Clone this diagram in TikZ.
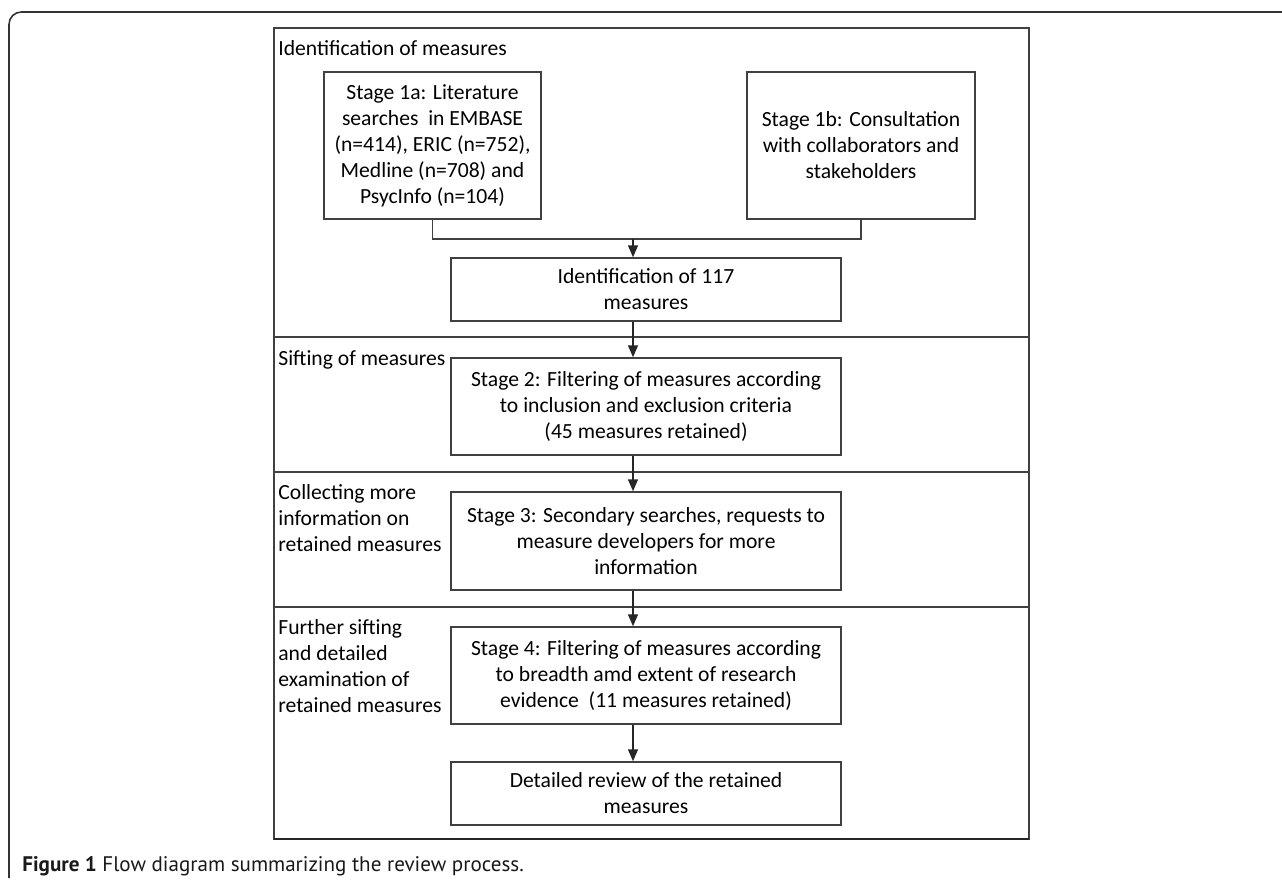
\documentclass[tikz,border=0pt]{standalone}
\usepackage{fontspec}
\setmainfont{Carlito}
\newfontfamily\capfont{PT Sans}
\usetikzlibrary{arrows.meta}

\tikzset{
  stagebox/.style={draw=black!75, line width=0.85pt, align=center, inner sep=0pt,
    font=\fontsize{12.3}{14.8}\selectfont},
  phase/.style={anchor=west, align=left, inner sep=0pt,
    font=\fontsize{12.3}{14.8}\selectfont},
  flow/.style={draw=black!85, line width=0.85pt, -{Triangle[length=2.4mm,width=2mm]}},
  rule/.style={draw=black!75, line width=0.85pt},
}

\begin{document}
\begin{tikzpicture}[x=0.02cm, y=-0.02cm]
    \useasboundingbox (0,0) rectangle (1282,883);
    \coordinate (TL) at (274,28);
    \coordinate (BR) at (1029,839);
    \coordinate (col) at (633,0);
    % page frame, only the top left corner is seen
    \draw[black!80, line width=0.9pt, rounded corners=7pt] (9,878) -- (9,12) -- (1282,12);
    % outer box and the phase dividers
    \draw[rule] (TL) rectangle (BR);
    \draw[black!85, line width=1.2pt] (274,839) -- (1029,839);
    \draw[rule] (274,337) -- (1029,337);
    \draw[rule] (274,472) -- (1029,472);
    \draw[rule] (274,607) -- (1029,607);

    \node[phase] (ph1) at (278,48) {Identification of measures};
    \node[phase] (ph2) at (278,360) {Sifting of measures};
    \node[phase] (ph3) at (278,518) {Collecting more\\information on\\retained measures};
    \node[phase] (ph4) at (278,666) {Further sifting\\and detailed\\examination of\\retained measures};

    \node[stagebox, minimum width=4.34cm, minimum height=2.94cm] (s1a) at (432.5,145.5)
        {Stage 1a: Literature\\searches \ in EMBASE\\(n=414), ERIC (n=752),\\Medline (n=708) and\\PsycInfo (n=104)};
    \node[stagebox, minimum width=4.56cm, minimum height=2.94cm] (s1b) at (861,145.5)
        {Stage 1b: Consultation\\with collaborators and\\stakeholders};
    \node[stagebox, minimum width=7.8cm, minimum height=1.26cm] (ident) at (646,289.5)
        {Identification of 117\\measures};
    \node[stagebox, minimum width=7.8cm, minimum height=1.94cm] (s2) at (646,406.5)
        {Stage 2: Filtering of measures according\\to inclusion and exclusion criteria\\(45 measures retained)};
    \node[stagebox, minimum width=7.8cm, minimum height=1.96cm] (s3) at (646,541)
        {Stage 3: Secondary searches, requests to\\measure developers for more\\information};
    \node[stagebox, minimum width=7.8cm, minimum height=1.94cm] (s4) at (646,675.5)
        {Stage 4: Filtering of measures according\\to breadth amd extent of research\\evidence \ (11 measures retained)};
    \node[stagebox, minimum width=7.8cm, minimum height=1.26cm] (s5) at (646,793.5)
        {Detailed review of the retained\\measures};

    % the two searches meet, then one line runs down
    \coordinate (join) at (col |- 0,239);
    \draw[rule] (s1a.south) |- (join) -| (s1b.south);
    \draw[flow] (join) -- (join |- ident.north);
    \draw[flow] (ident.south -| col) -- (s2.north -| col);
    \draw[flow] (s2.south -| col) -- (s3.north -| col);
    \draw[flow] (s3.south -| col) -- (s4.north -| col);
    \draw[flow] (s4.south -| col) -- (s5.north -| col);

    \node[anchor=west, inner sep=0pt, text=black!90, font=\capfont\fontsize{12}{14}\selectfont] (caption) at (22,866)
        {\textbf{Figure 1} Flow diagram summarizing the review process.};
\end{tikzpicture}
\end{document}
